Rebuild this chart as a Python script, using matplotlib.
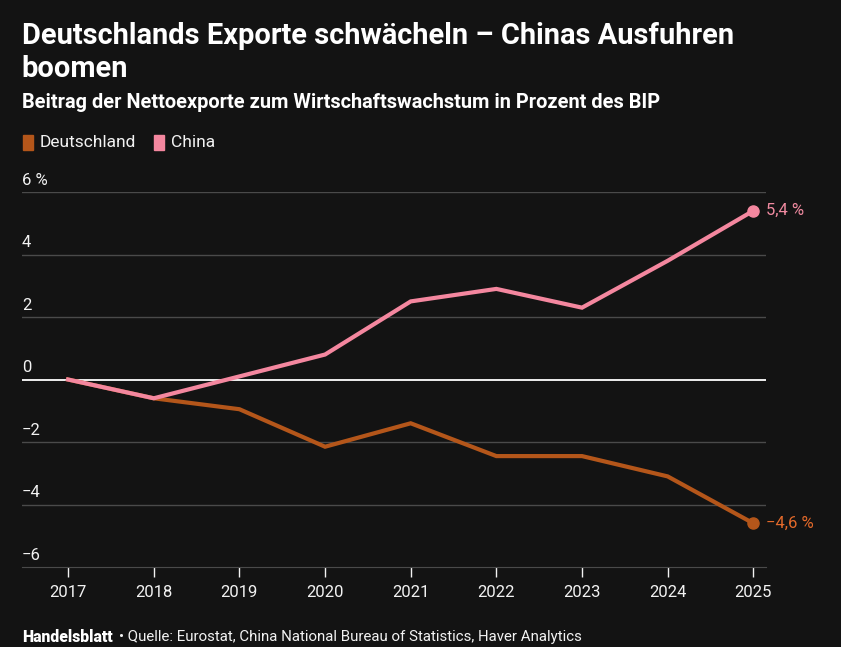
import numpy as np
import matplotlib.pyplot as plt
from matplotlib.transforms import blended_transform_factory, offset_copy

years = [2017, 2018, 2019, 2020, 2021, 2022, 2023, 2024, 2025]
deutschland = [0.0, -0.6, -0.95, -2.15, -1.4, -2.45, -2.45, -3.1, -4.6]
china = [0.0, -0.6, 0.1, 0.8, 2.5, 2.9, 2.3, 3.8, 5.4]
y_ticks = [6, 4, 2, 0, -2, -4, -6]
y_labels = ['6 %', '4', '2', '0', '\u22122', '\u22124', '\u22126']

bg = '#131313'
col_de = '#b4561a'
col_cn = '#f4879f'
txt = '#f2f2f2'

plt.rcParams['font.family'] = ['Roboto', 'DejaVu Sans']

fig = plt.figure(figsize=(8.41, 6.47), dpi=100, facecolor=bg)
ax = fig.add_axes([0.026, 0.1236, 0.885, 0.5796], facecolor=bg)

ax.set_xlim(2016.46, 2025.15)
ax.set_ylim(-6, 6)

for v in y_ticks[:-1]:
    if v == 0:
        continue
    ax.axhline(v, color='#4a4a4a', lw=1, zorder=1)
ax.axhline(0, color='white', lw=1.3, zorder=2)

ax.plot(years, deutschland, color=col_de, lw=3, zorder=3, solid_joinstyle='miter')
ax.plot(years, china, color=col_cn, lw=3, zorder=4, solid_joinstyle='miter')
ax.plot(years[-1], deutschland[-1], 'o', color=col_de, ms=8, zorder=5)
ax.plot(years[-1], china[-1], 'o', color=col_cn, ms=8, zorder=5)
ax.annotate('5,4 %', (years[-1], china[-1]), xytext=(9, 0), textcoords='offset points',
            color='#f08aa0', fontsize=12, va='center', ha='left')
ax.annotate('\u22124,6 %', (years[-1], deutschland[-1]), xytext=(9, 0), textcoords='offset points',
            color='#e2692a', fontsize=12, va='center', ha='left')

for s in ['top', 'right', 'left']:
    ax.spines[s].set_visible(False)
ax.spines['bottom'].set_color('#4a4a4a')
ax.set_yticks([])
ax.set_xticks(years)
ax.set_xticklabels([str(y) for y in years])
ax.tick_params(axis='x', colors=txt, length=7, width=1, pad=6, labelsize=12,
               labelcolor=txt)
for t in ax.xaxis.get_ticklines():
    t.set_color('#dddddd')

tr = blended_transform_factory(ax.transAxes, ax.transData)
tr = offset_copy(tr, fig=fig, x=0, y=3, units='points')
for v, lab in zip(y_ticks, y_labels):
    ax.text(0, v, lab, transform=tr, color=txt, fontsize=12, ha='left', va='bottom')

fig.text(0.026, 0.945, 'Deutschlands Exporte schwächeln \u2013 Chinas Ausfuhren', color='white',
         fontsize=20.9, fontweight='bold', ha='left', va='center')
fig.text(0.026, 0.893, 'boomen', color='white', fontsize=20.9, fontweight='bold',
         ha='left', va='center')
fig.text(0.026, 0.842, 'Beitrag der Nettoexporte zum Wirtschaftswachstum in Prozent des BIP',
         color='white', fontsize=14.4, fontweight='bold', ha='left', va='center')

# legend
fig.patches.append(plt.Rectangle((0.027, 0.768), 0.0125, 0.024, transform=fig.transFigure,
                                 color=col_de))
fig.text(0.047, 0.779, 'Deutschland', color=txt, fontsize=12.5, ha='left', va='center')
fig.patches.append(plt.Rectangle((0.183, 0.768), 0.0125, 0.024, transform=fig.transFigure,
                                 color=col_cn))
fig.text(0.203, 0.779, 'China', color=txt, fontsize=12.5, ha='left', va='center')

fig.text(0.026, 0.015, 'Handelsblatt', color='white', fontsize=11.3, fontweight='black',
         ha='left', va='center')
fig.text(0.142, 0.015, '\u2022 Quelle: Eurostat, China National Bureau of Statistics, Haver Analytics',
         color=txt, fontsize=10.8, ha='left', va='center')

fig.savefig('out.png', dpi=100, facecolor=bg)
